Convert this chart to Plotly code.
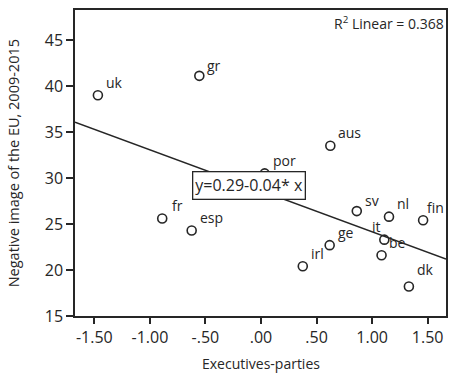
import numpy as np
import plotly.graph_objects as go

# Country codes, executive-party index (x) and negative image of the EU (y)
countries = ["uk", "gr", "fr", "esp", "por", "aus", "irl", "ge", "sv", "nl", "fin", "it", "be", "dk"]
exec_parties = [-1.468, -0.555, -0.889, -0.624, 0.033, 0.624, 0.376, 0.618, 0.862, 1.152, 1.459, 1.110, 1.085, 1.331]
neg_image = [39.0, 41.1, 25.6, 24.3, 30.5, 33.5, 20.4, 22.7, 26.4, 25.8, 25.4, 23.3, 21.6, 18.2]

x_tickvals = [-1.5, -1.0, -0.5, 0.0, 0.5, 1.0, 1.5]
x_ticktext = ["-1.50", "-1.00", "-.50", ".00", ".50", "1.00", "1.50"]
y_tickvals = [15, 20, 25, 30, 35, 40, 45]

fit_label = "y=0.29-0.04* x"
r2_label = "R<sup>2</sup> Linear = 0.368"

# label offsets in pixels (left edge of text relative to the marker)
label_dx = {"it": -14, "fr": 8, "be": 5, "fin": 2}
label_dy = {"dk": 17, "gr": 10, "sv": 11}

XR = [-1.674, 1.665]
YR = [15, 48.26]

FONT = "Open Sans"
INK = "#262626"

slope, intercept = np.polyfit(exec_parties, neg_image, 1)
fit_x = np.array(XR)
fit_y = intercept + slope * fit_x

fig = go.Figure()
fig.add_trace(go.Scatter(
    x=fit_x, y=fit_y, mode="lines",
    line=dict(color=INK, width=1.6), hoverinfo="skip", showlegend=False,
))
fig.add_trace(go.Scatter(
    x=exec_parties, y=neg_image, mode="markers",
    marker=dict(symbol="circle-open", size=9, color=INK, line=dict(width=1.6)),
    showlegend=False,
))

# plot area size in pixels, used to place the axis titles
pw = 449 - 75 - 1
ph = 373 - 10 - 57

annotations = []
for c, xv, yv in zip(countries, exec_parties, neg_image):
    annotations.append(dict(
        x=xv, y=yv, xref="x", yref="y", text=c, showarrow=False,
        xanchor="left", yanchor="middle",
        xshift=label_dx.get(c, 6), yshift=label_dy.get(c, 13),
        font=dict(family=FONT, size=14, color=INK),
    ))

# regression equation box
annotations.append(dict(
    x=-0.112, y=29.18, xref="x", yref="y", text=fit_label, showarrow=False,
    xanchor="center", yanchor="middle",
    font=dict(family=FONT, size=16, color=INK),
    bgcolor="white", bordercolor=INK, borderwidth=1.3, borderpad=2,
))
# R squared in the top-right corner
annotations.append(dict(
    x=1, y=1, xref="paper", yref="paper", text=r2_label, showarrow=False,
    xanchor="right", yanchor="top", yshift=-1,
    font=dict(family=FONT, size=14, color=INK),
))
# axis titles
annotations.append(dict(
    x=0.5, y=-48 / ph, xref="paper", yref="paper", text="Executives-parties", showarrow=False,
    xanchor="center", yanchor="middle",
    font=dict(family=FONT, size=14, color=INK),
))
annotations.append(dict(
    x=-(75 - 13) / pw, y=0.5, xref="paper", yref="paper",
    text="Negative image of the EU, 2009-2015",
    showarrow=False, textangle=-90, xanchor="center", yanchor="middle",
    font=dict(family=FONT, size=14.5, color=INK),
))

fig.update_layout(
    width=449, height=373,
    margin=dict(l=75, r=1, t=10, b=57),
    paper_bgcolor="white", plot_bgcolor="white",
    annotations=annotations,
    font=dict(family=FONT, size=15, color=INK),
)
fig.update_xaxes(
    range=XR, tickvals=x_tickvals, ticktext=x_ticktext,
    showgrid=False, zeroline=False,
    showline=True, mirror=True, linecolor=INK, linewidth=1.5,
    ticks="outside", ticklen=6, tickwidth=1.5, tickcolor=INK,
    tickfont=dict(family=FONT, size=16, color=INK),
)
fig.update_yaxes(
    range=YR, tickvals=y_tickvals,
    showgrid=False, zeroline=False,
    showline=True, mirror=True, linecolor=INK, linewidth=1.5,
    ticks="outside", ticklen=7, tickwidth=1.5, tickcolor=INK,
    tickfont=dict(family=FONT, size=16, color=INK),
)

fig.write_html("out.html")
